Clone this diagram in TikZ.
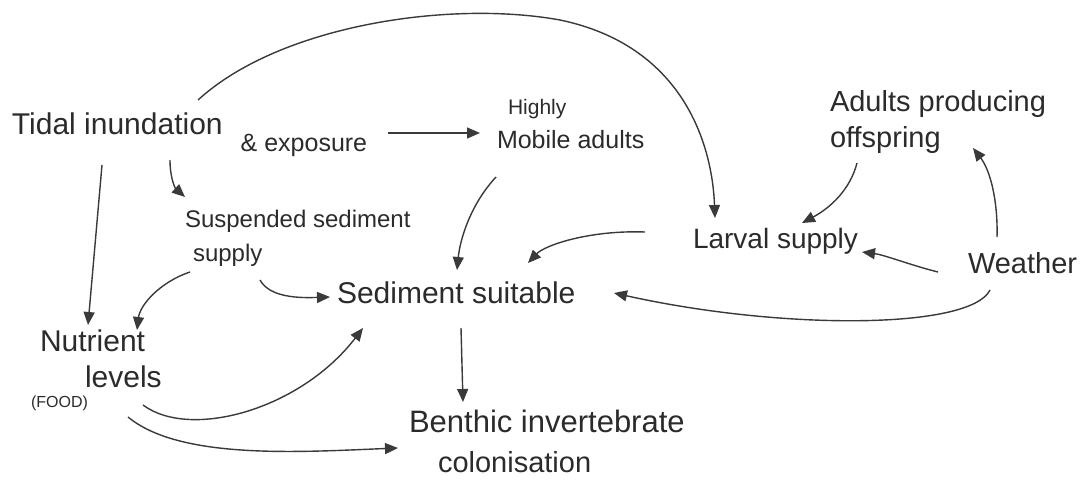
\documentclass[tikz,border=0pt]{standalone}
\usepackage{fontspec}
\setmainfont{Liberation Sans}
\usetikzlibrary{arrows.meta,calc}
\definecolor{ink}{HTML}{2B2B2B}
\definecolor{pen}{HTML}{3A3A3A}
\begin{document}
\begin{tikzpicture}[x=1pt,y=-1pt,
  lbl/.style={inner sep=0pt,outer sep=0pt,text=ink,align=left},
  conn/.style={draw=pen,line width=1.4pt,-{Triangle[length=13pt,width=11pt]}},
]
\useasboundingbox[fill=white] (0,0) rectangle (1083,484);

% nodes
\node[lbl,anchor=base west,font=\fontsize{30}{36}\selectfont] (tidal) at (12,135)
  {Tidal inundation\hspace{18pt}{\fontsize{25}{30}\selectfont\raisebox{-17pt}{\& exposure}}};
\node[lbl,anchor=north west,font=\fontsize{25}{34}\selectfont] (mobile) at (497,99)
  {\hspace*{11pt}{\fontsize{21}{34}\selectfont Highly}\\Mobile adults};
\node[lbl,anchor=north west,font=\fontsize{29}{36}\selectfont] (adults) at (830,90)
  {Adults producing\\offspring};
\node[lbl,anchor=north west,font=\fontsize{24}{34}\selectfont] (susp) at (185,210)
  {Suspended sediment\\\hspace*{8pt}supply};
\node[lbl,anchor=base west,font=\fontsize{28}{34}\selectfont] (larval) at (693,248)
  {Larval supply};
\node[lbl,anchor=base west,font=\fontsize{29}{34}\selectfont] (weather) at (968,273)
  {Weather};
\node[lbl,anchor=base west,font=\fontsize{30}{36}\selectfont] (sediment) at (337,303)
  {Sediment suitable};
\node[lbl,anchor=north west,font=\fontsize{30}{36}\selectfont] (nutrient) at (40,330)
  {Nutrient\\\hspace*{45pt}levels};
\node[lbl,anchor=base west,font=\fontsize{16}{18}\selectfont] (food) at (31,407)
  {(FOOD)};
\node[lbl,anchor=north west,font=\fontsize{31}{40}\selectfont] (benthic) at (409,410)
  {Benthic invertebrate\\\hspace*{29pt}{\fontsize{29}{40}\selectfont colonisation}};

% connectors
\draw[conn] ($(tidal.base west)+(376,-2)$) -- ($(mobile.north west)+(-17,34)$);
\draw[conn] ($(tidal.base west)+(186,-35)$) .. controls (280,25) and (450,0) .. (560,20)
  .. controls (680,45) and (712,140) .. ($(larval.base west)+(22,-30)$);
\draw[conn] ($(tidal.base west)+(158,25)$) .. controls (170,178) and (175,188) .. ($(susp.north west)+(0,-13)$);
\draw[conn] ($(tidal.base west)+(90,30)$) -- ($(nutrient.north west)+(48,-5)$);
\draw[conn] ($(susp.north west)+(5,62)$) .. controls (160,282) and (140,305) .. ($(nutrient.north west)+(97,0)$);
\draw[conn] ($(susp.north west)+(75,70)$) .. controls (270,298) and (300,298) .. ($(sediment.base west)+(-7,-6)$);
\draw[conn] ($(mobile.north west)+(-1,78)$) .. controls (470,205) and (460,240) .. ($(sediment.base west)+(120,-33)$);
\draw[conn] ($(larval.base west)+(-48,-16)$) .. controls (590,230) and (545,245) .. ($(sediment.base west)+(191,-40)$);
\draw[conn] ($(adults.north west)+(27,73)$) .. controls (850,190) and (830,208) .. ($(larval.base west)+(109,-25)$);
\draw[conn] ($(weather.base west)+(29,-36)$) .. controls (998,200) and (990,170) .. ($(adults.north west)+(143,58)$);
\draw[conn] ($(weather.base west)+(-30,-1)$) .. controls (910,265) and (885,255) .. ($(larval.base west)+(169,4)$);
\draw[conn] ($(weather.base west)+(22,17)$) .. controls (970,330) and (780,330) .. ($(sediment.base west)+(277,-10)$);
\draw[conn] ($(sediment.base west)+(124,25)$) -- ($(benthic.north west)+(54,-8)$);
\draw[conn] ($(nutrient.north west)+(103,75)$) .. controls (190,440) and (300,410) .. ($(sediment.base west)+(26,25)$);
\draw[conn] ($(nutrient.north west)+(88,87)$) .. controls (180,460) and (300,452) .. ($(benthic.north west)+(-11,38)$);
\end{tikzpicture}
\end{document}
